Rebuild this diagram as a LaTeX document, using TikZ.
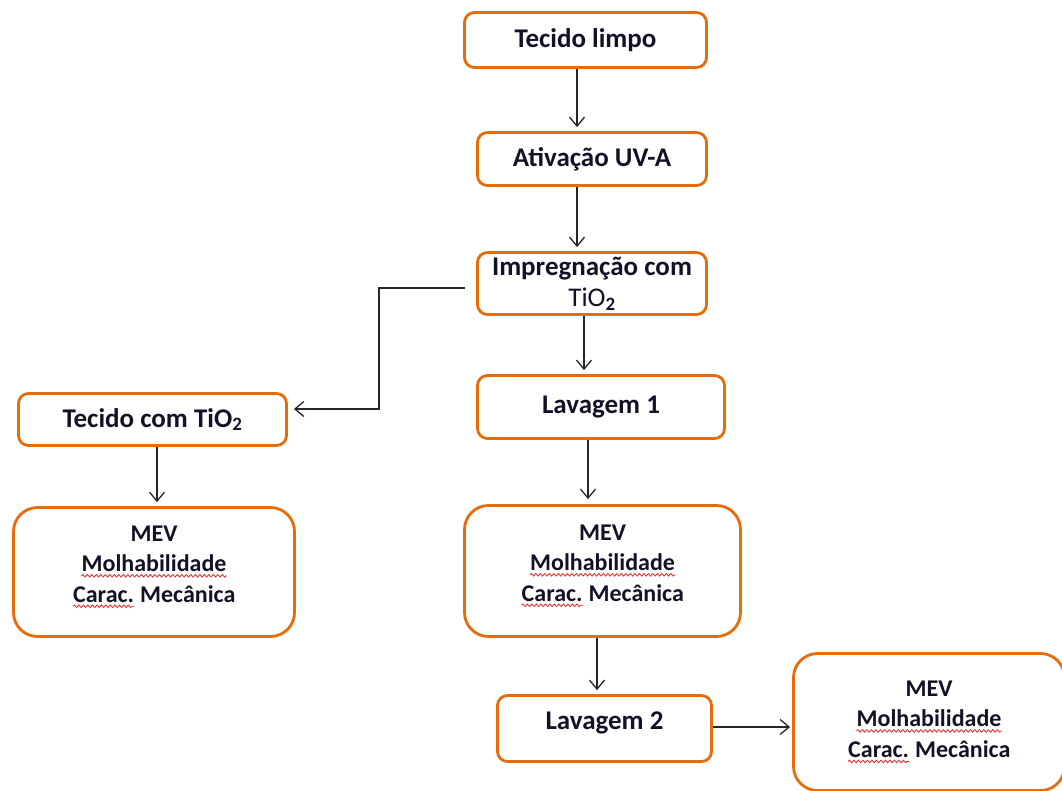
\documentclass[tikz,border=0pt]{standalone}
\usepackage{fontspec}
\setmainfont{Carlito}
\usepackage{tikz}
\usetikzlibrary{arrows.meta,positioning,calc,decorations.pathmorphing}
\definecolor{boxorange}{RGB}{228,108,10}
\definecolor{inktext}{RGB}{18,18,38}
\definecolor{spellred}{RGB}{225,40,40}
\tikzset{
  flowbox/.style={draw=boxorange, line width=2.8pt, rounded corners=10pt, align=center,
    font=\fontsize{27}{31}\selectfont\bfseries, text=inktext, inner sep=0pt},
  testbox/.style={flowbox, rounded corners=24pt, font=\fontsize{24}{30.5}\selectfont\bfseries},
  conn/.style={draw=black!85, line width=1.3pt, -{Straight Barb[length=9pt,width=15pt,line width=1.3pt]}},
  wave/.style={draw=spellred, line width=0.8pt, sharp corners, decorate,
    decoration={snake, segment length=4.5pt, amplitude=1.3pt}}
}
\newcommand\spellwave[1]{\tikz[baseline=(w.base)]{\node[draw=none, fill=none, anchor=center, inner sep=0pt, minimum size=0pt] (w) {#1}; \draw[wave] ([yshift=-4pt]w.base west) -- ([yshift=-4pt]w.base east);}}

\begin{document}
\begin{tikzpicture}[x=1pt, y=-1pt]
  \useasboundingbox (0,0) rectangle (1062,790);
  \node[flowbox, minimum width=242pt, minimum height=55pt] (limpo) at (585.5,40) {Tecido limpo};
  \node[flowbox, minimum width=229pt, minimum height=53pt] (ativ) at (592,159) {Ativação UV-A};
  \node[flowbox, minimum width=229pt, minimum height=62pt] (imp) at (592,283.5) {Impregnação com\\{\mdseries TiO}\textsubscript{2}};
  \node[flowbox, minimum width=247pt, minimum height=63pt] (lav1) at (601,407) {Lavagem 1};
  \node[flowbox, minimum width=268pt, minimum height=52pt] (tec2) at (152.5,419.5) {Tecido com TiO\textsubscript{2}};
  \node[testbox, minimum width=281pt, minimum height=129pt, text depth=16pt] (mevL) at (154,572) {MEV\\\spellwave{Molhabilidade}\\\spellwave{Carac.} Mecânica};
  \node[testbox, minimum width=276pt, minimum height=131pt, text depth=16pt] (mevM) at (602.5,571) {MEV\\\spellwave{Molhabilidade}\\\spellwave{Carac.} Mecânica};
  \node[flowbox, minimum width=214pt, minimum height=66pt, text depth=16pt] (lav2) at (604.5,728.5) {Lavagem 2};
  \node[testbox, minimum width=271pt, minimum height=137pt] (mevR) at (929,722) {MEV\\\spellwave{Molhabilidade}\\\spellwave{Carac.} Mecânica};
    % Connectors
  \draw[conn, shorten >=4pt] (limpo.south -| 577,0) -- (ativ.north -| 577,0);
  \draw[conn, shorten >=4pt] (ativ.south -| 577,0) -- (imp.north -| 577,0);
  \draw[conn, shorten >=4pt] (imp.south -| 584,0) -- (lav1.north -| 584,0);
  \draw[conn, shorten >=6pt] ([xshift=-11pt,yshift=-4.5pt]imp.west) -| (379,409) -- (tec2.east |- 0,409);
  \draw[conn, shorten >=4pt] (tec2.south -| 157,0) -- (mevL.north -| 157,0);
  \draw[conn, shorten >=5pt] (lav1.south -| 588,0) -- (mevM.north -| 588,0);
  \draw[conn, shorten >=4pt] (mevM.south -| 597,0) -- (lav2.north -| 597,0);
  \draw[conn, shorten >=2pt] (lav2.east |- 0,727) -- (mevR.west |- 0,727);
\end{tikzpicture}
\end{document}
